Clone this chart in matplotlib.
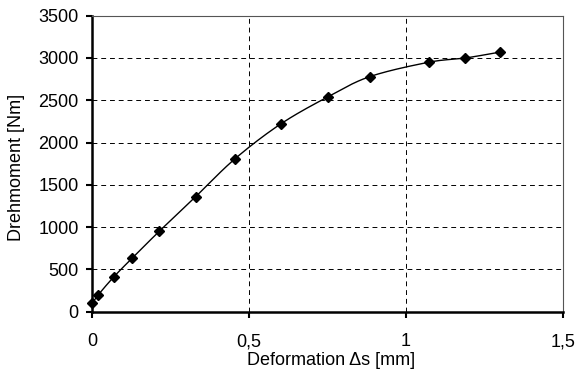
import numpy as np
import matplotlib
matplotlib.use("Agg")
import matplotlib.pyplot as plt
from matplotlib.ticker import FuncFormatter

deformation = [0.0, 0.02, 0.069, 0.127, 0.214, 0.330, 0.456, 0.601, 0.751, 0.885, 1.073, 1.189, 1.300]
torque = [100, 200, 410, 630, 950, 1360, 1810, 2220, 2540, 2780, 2950, 3000, 3070]
x_ticks = [0, 0.5, 1, 1.5]
y_ticks = [0, 500, 1000, 1500, 2000, 2500, 3000, 3500]

plt.rcParams['font.family'] = ['Liberation Sans', 'DejaVu Sans']

def catmull(xs, ys, n=20):
    xs = np.asarray(xs, float); ys = np.asarray(ys, float)
    px = np.concatenate([[2*xs[0]-xs[1]], xs, [2*xs[-1]-xs[-2]]])
    py = np.concatenate([[2*ys[0]-ys[1]], ys, [2*ys[-1]-ys[-2]]])
    ox, oy = [], []
    for i in range(1, len(px)-2):
        t = np.linspace(0, 1, n, endpoint=False)
        for p, o in ((px, ox), (py, oy)):
            p0, p1, p2, p3 = p[i-1], p[i], p[i+1], p[i+2]
            m1 = (p2 - p0) / 2
            m2 = (p3 - p1) / 2
            h00 = 2*t**3 - 3*t**2 + 1
            h10 = t**3 - 2*t**2 + t
            h01 = -2*t**3 + 3*t**2
            h11 = t**3 - t**2
            o.extend(h00*p1 + h10*m1 + h01*p2 + h11*m2)
    ox.append(xs[-1]); oy.append(ys[-1])
    return np.array(ox), np.array(oy)

fig = plt.figure(figsize=(5.77, 3.79), dpi=100)
ax = fig.add_axes([92/577, 1-311.7/379, 471/577, 296/379])

sx, sy = catmull(deformation, torque)
ax.plot(sx, sy, color='black', lw=1.0, zorder=3)
ax.plot(deformation, torque, linestyle='none', marker='D', markersize=5.5,
        color='black', zorder=4, clip_on=False)

ax.set_xlim(0, 1.5)
ax.set_ylim(0, 3500)
ax.set_xticks(x_ticks)
ax.set_yticks(y_ticks)
ax.xaxis.set_major_formatter(FuncFormatter(lambda v, p: ('%g' % v).replace('.', ',')))
ax.grid(True, color='black', linestyle=(0, (5, 4)), linewidth=0.7)
ax.set_axisbelow(True)

for s in ('left', 'bottom'):
    ax.spines[s].set_linewidth(1.8)
    ax.spines[s].set_color('black')
for s in ('top', 'right'):
    ax.spines[s].set_linewidth(0.8)
    ax.spines[s].set_color('#555555')

ax.tick_params(axis='both', direction='out', length=4.5, width=1.5, labelsize=13, colors='black')
ax.tick_params(axis='y', pad=5)
ax.tick_params(axis='x', pad=11)
ax.set_xlabel('Deformation Δs [mm]', fontsize=13)
ax.set_ylabel('Drehmoment [Nm]', fontsize=13)
ax.xaxis.set_label_coords(0.507, -0.135)
ax.yaxis.set_label_coords(-0.142, 0.487)

fig.savefig('out.png', dpi=100)
